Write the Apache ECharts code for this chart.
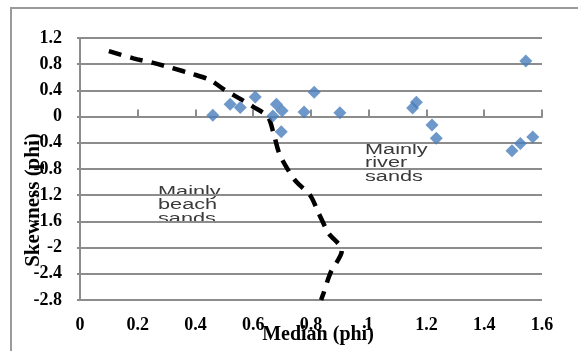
<!DOCTYPE html>
<html>
<head>
<meta charset="utf-8">
<script src="https://cdn.jsdelivr.net/npm/echarts@6/dist/echarts.min.js"></script>
<style>
  html, body { margin: 0; padding: 0; background: #fff; }
  #chart { width: 578px; height: 351px; }
</style>
</head>
<body>
<div id="chart"></div>
<script>
// sample points: median (phi) vs skewness (phi)
const medianVals = [0.46, 0.52, 0.555, 0.607, 0.68, 0.668, 0.70, 0.697, 0.776, 0.811, 0.90, 1.152, 1.165, 1.219, 1.234, 1.544, 1.496, 1.525, 1.568];
const skewVals = [0.02, 0.19, 0.14, 0.30, 0.19, 0.01, 0.09, -0.23, 0.07, 0.37, 0.06, 0.13, 0.22, -0.13, -0.33, 0.85, -0.52, -0.41, -0.31];

// dividing line between beach and river sands
const divideX = [0.10, 0.185, 0.254, 0.32, 0.39, 0.45, 0.50, 0.555, 0.60, 0.65, 0.67, 0.69, 0.72, 0.75, 0.797, 0.826, 0.861, 0.907, 0.867, 0.843, 0.835];
const divideY = [1.0, 0.89, 0.82, 0.74, 0.65, 0.56, 0.41, 0.27, 0.15, 0, -0.25, -0.56, -0.81, -1.0, -1.2, -1.47, -1.78, -2.04, -2.39, -2.7, -2.8];

const chart = echarts.init(document.getElementById("chart"));

const labelFont = {
  color: "#000",
  fontFamily: "Liberation Serif",
  fontWeight: "bold",
  fontSize: 18,
};

const option = {
  animation: false,
  grid: { left: 80, right: 36, top: 38, bottom: 51, outerBoundsMode: "none", containLabel: false },
  xAxis: {
    type: "value",
    min: 0,
    max: 1.6,
    interval: 0.2,
    name: "Median (phi)",
    nameLocation: "middle",
    nameGap: 25,
    nameMoveOverlap: false,
    nameTextStyle: {
      color: "#000",
      fontFamily: "Liberation Serif",
      fontWeight: "bold",
      fontSize: 20,
      padding: [0, 0, 0, 14],
    },
    axisLine: { lineStyle: { color: "#8c8c8c", width: 2 } },
    axisTick: { show: true, inside: true, length: 7, lineStyle: { color: "#8c8c8c", width: 2 } },
    axisLabel: Object.assign({ margin: 16, formatter: (v) => String(+v.toFixed(1)) }, labelFont),
    splitLine: { show: false },
  },
  yAxis: {
    type: "value",
    min: -2.8,
    max: 1.2,
    interval: 0.4,
    name: "Skewness (phi)",
    nameLocation: "middle",
    nameRotate: 90,
    nameGap: 36,
    nameMoveOverlap: false,
    nameTextStyle: {
      color: "#000",
      fontFamily: "Liberation Serif",
      fontWeight: "bold",
      fontSize: 21,
      padding: [0, 62, 0, 0],
    },
    axisLine: { show: true, lineStyle: { color: "#8c8c8c", width: 2 } },
    axisTick: { show: true, length: 3, lineStyle: { color: "#8c8c8c", width: 2 } },
    axisLabel: Object.assign({ margin: 18, formatter: (v) => String(+v.toFixed(1)) }, labelFont),
    splitLine: { show: true, lineStyle: { color: "#8c8c8c", width: 2 } },
  },
  graphic: [
    {
      type: "rect",
      shape: { x: 11, y: 8, width: 620, height: 400 },
      style: { fill: "none", stroke: "#9a9a9a", lineWidth: 2 },
      silent: true,
    },
    {
      type: "text",
      x: 158,
      y: 185,
      scaleX: 1.55,
      style: {
        text: "Mainly\nbeach\nsands",
        fill: "#3a3a3a",
        font: "14px 'Liberation Sans'",
        lineHeight: 13.5,
      },
    },
    {
      type: "text",
      x: 365,
      y: 143,
      scaleX: 1.55,
      style: {
        text: "Mainly\nriver\nsands",
        fill: "#3a3a3a",
        font: "14px 'Liberation Sans'",
        lineHeight: 13.5,
      },
    },
  ],
  series: [
    {
      type: "line",
      data: divideX.map((x, i) => [x, divideY[i]]),
      smooth: 0.3,
      symbol: "none",
      lineStyle: { color: "#000", width: 4.5, type: [13, 9] },
      z: 3,
    },
    {
      type: "scatter",
      data: medianVals.map((x, i) => [x, skewVals[i]]),
      symbol: "diamond",
      symbolSize: [13, 13],
      itemStyle: { color: "#4a7ebb" },
      z: 4,
    },
  ],
};

chart.setOption(option);
</script>
</body>
</html>
